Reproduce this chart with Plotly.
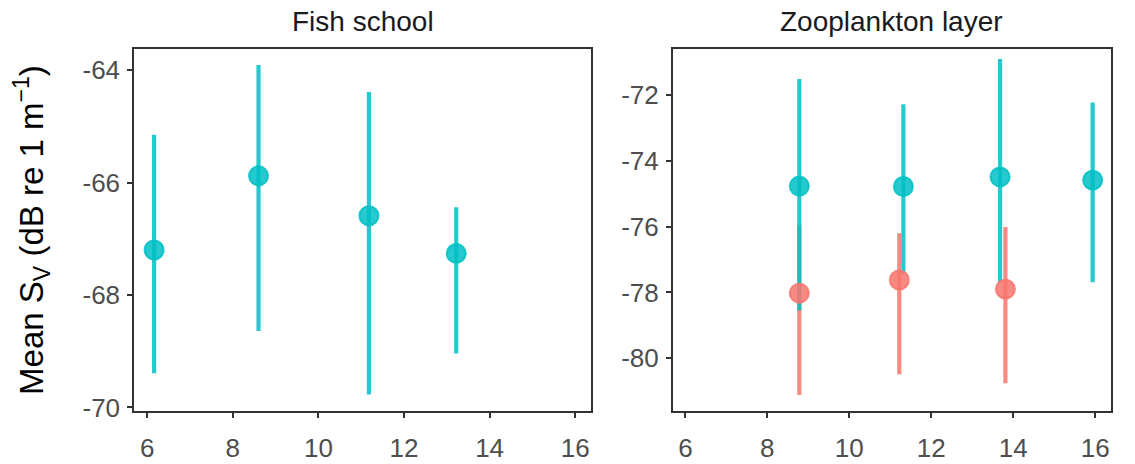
import plotly.graph_objects as go

# Fish school: mean Sv with interval bounds at each frequency position
fish_x = [6.16, 8.60, 11.18, 13.22]
fish_mean = [-67.20, -65.88, -66.59, -67.26]
fish_upper = [-65.15, -63.91, -64.39, -66.44]
fish_lower = [-69.39, -68.64, -69.77, -69.04]

# Zooplankton layer, teal group
zoo_teal_x = [8.78, 11.32, 13.68, 15.94]
zoo_teal_mean = [-74.77, -74.78, -74.49, -74.59]
zoo_teal_upper = [-71.52, -72.28, -70.91, -72.23]
zoo_teal_lower = [-78.55, -77.45, -77.70, -77.69]

# Zooplankton layer, red group
zoo_red_x = [8.78, 11.22, 13.81]
zoo_red_mean = [-78.02, -77.62, -77.90]
zoo_red_upper = [-75.94, -76.20, -76.01]
zoo_red_lower = [-81.11, -80.48, -80.76]

x_ticks = [6, 8, 10, 12, 14, 16]
fish_y_ticks = [-64, -66, -68, -70]
zoo_y_ticks = [-72, -74, -76, -78, -80]

TEAL = "rgba(0,191,196,0.85)"
RED = "rgba(248,118,109,0.85)"
FONT = "Liberation Sans, Arial, sans-serif"

W, H = 1135, 464

fig = go.Figure()


def ranges(x, mean, lo, hi, color, xa, ya):
    # vertical interval only; marker hidden so points can be layered on top later
    fig.add_trace(go.Scatter(
        x=x, y=mean, mode="markers", xaxis=xa, yaxis=ya,
        marker=dict(size=1, opacity=0),
        error_y=dict(type="data", symmetric=False,
                     array=[h - m for h, m in zip(hi, mean)],
                     arrayminus=[m - l for m, l in zip(mean, lo)],
                     color=color, thickness=4.2, width=0),
        showlegend=False, hoverinfo="skip"))


def points(x, mean, color, xa, ya):
    fig.add_trace(go.Scatter(
        x=x, y=mean, mode="markers", xaxis=xa, yaxis=ya,
        marker=dict(size=19, color=color, line=dict(color=color, width=2)),
        showlegend=False))


ranges(fish_x, fish_mean, fish_lower, fish_upper, TEAL, "x", "y")
ranges(zoo_red_x, zoo_red_mean, zoo_red_lower, zoo_red_upper, RED, "x2", "y2")
ranges(zoo_teal_x, zoo_teal_mean, zoo_teal_lower, zoo_teal_upper, TEAL, "x2", "y2")
points(fish_x, fish_mean, TEAL, "x", "y")
points(zoo_red_x, zoo_red_mean, RED, "x2", "y2")
points(zoo_teal_x, zoo_teal_mean, TEAL, "x2", "y2")

left_dom = [134 / W, 591 / W]
right_dom = [672.7 / W, 1110.7 / W]
y_dom = [1 - 421 / H, 1 - 50 / H]

axis_common = dict(
    showline=True, linecolor="#333333", linewidth=1.5, mirror=True,
    ticks="outside", ticklen=5, tickwidth=2, tickcolor="#333333",
    showgrid=False, zeroline=False,
    tickfont=dict(family=FONT, size=26, color="#4D4D4D"),
)


def labels(vals):
    # plain hyphen-minus for negative tick labels
    return [str(v) for v in vals]


fig.update_layout(
    width=W, height=H, margin=dict(l=0, r=0, t=0, b=0),
    plot_bgcolor="white", paper_bgcolor="white",
    xaxis=dict(domain=left_dom, range=[5.69, 16.37], tickvals=x_ticks,
               ticktext=labels(x_ticks), ticklabelstandoff=8,
               anchor="y", **axis_common),
    yaxis=dict(domain=y_dom, range=[-70.064, -63.62], tickvals=fish_y_ticks,
               ticktext=labels(fish_y_ticks), ticklabelstandoff=2,
               anchor="x", **axis_common),
    xaxis2=dict(domain=right_dom, range=[5.69, 16.38], tickvals=x_ticks,
                ticktext=labels(x_ticks), ticklabelstandoff=8,
                anchor="y2", **axis_common),
    yaxis2=dict(domain=y_dom, range=[-81.6, -70.6], tickvals=zoo_y_ticks,
                ticktext=labels(zoo_y_ticks), ticklabelstandoff=2,
                anchor="x2", **axis_common),
    annotations=[
        dict(text="Fish school", xref="paper", yref="paper",
             x=sum(left_dom) / 2, y=1 - 22 / H, xanchor="center", yanchor="middle",
             showarrow=False, font=dict(family=FONT, size=28, color="#1A1A1A")),
        dict(text="Zooplankton layer", xref="paper", yref="paper",
             x=sum(right_dom) / 2, y=1 - 22 / H, xanchor="center", yanchor="middle",
             showarrow=False, font=dict(family=FONT, size=28, color="#1A1A1A")),
        dict(text="Mean S<sub>V</sub> (dB re 1 m<sup>\u22121</sup>)",
             xref="paper", yref="paper", x=32 / W, y=sum(y_dom) / 2,
             xanchor="center", yanchor="middle", textangle=-90, showarrow=False,
             font=dict(family=FONT, size=33, color="black")),
    ],
)

fig.write_html("out.html")
